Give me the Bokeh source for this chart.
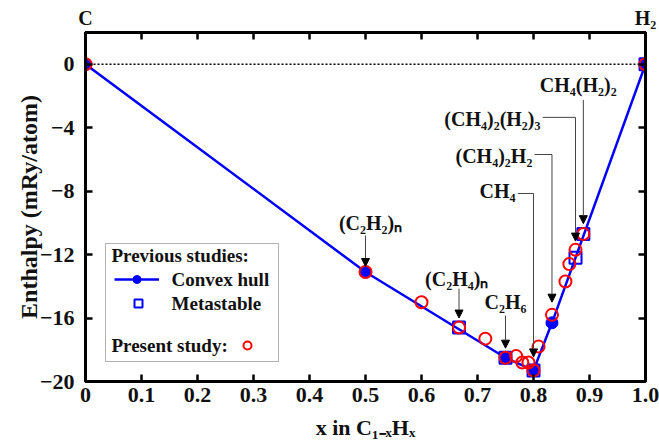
from bokeh.plotting import figure
from bokeh.models import (Span, Label, Arrow, NormalHead, BoxAnnotation, Legend,
                          LegendItem, LinearAxis, FixedTicker, Range1d)
from bokeh.core.properties import value
from bokeh.embed import file_html
from bokeh.resources import INLINE

# ---------------- data ----------------
hull_x = [0.0, 0.5, 0.75, 0.8, 0.833, 1.0]
hull_y = [0.0, -13.1, -18.5, -19.3, -16.3, 0.0]

meta_x = [0.667, 0.75, 0.8, 0.875, 0.889, 1.0]
meta_y = [-16.6, -18.5, -19.3, -12.2, -10.7, 0.0]

present_x = [0.0, 0.5, 0.6, 0.667, 0.714, 0.75, 0.769, 0.78, 0.791, 0.8,
             0.809, 0.833, 0.857, 0.864, 0.875, 0.889, 1.0]
present_y = [0.0, -13.1, -15.0, -16.6, -17.3, -18.5, -18.4, -18.8, -18.8, -19.3,
             -17.8, -15.8, -13.7, -12.6, -11.7, -10.7, 0.0]

compounds = ["(C\u2082H\u2082)\u2099", "(C\u2082H\u2084)\u2099", "C\u2082H\u2086", "CH\u2084",
             "(CH\u2084)\u2082H\u2082", "(CH\u2084)\u2082(H\u2082)\u2083", "CH\u2084(H\u2082)\u2082"]
compound_x = [0.5, 0.667, 0.75, 0.8, 0.833, 0.875, 0.889]

end_members_x = [0.0, 1.0]
end_members = ["C", "H\u2082"]

legend_texts = ["Previous studies:", "Convex hull", "Metastable", "Present study:"]

x_ticks = [0.0, 0.1, 0.2, 0.3, 0.4, 0.5, 0.6, 0.7, 0.8, 0.9, 1.0]
x_tick_labels = ["0", "0.1", "0.2", "0.3", "0.4", "0.5", "0.6", "0.7", "0.8", "0.9", "1.0"]
y_ticks = [0, -4, -8, -12, -16, -20]

# ---------------- figure ----------------
FONT = "Liberation Serif"
TXT = "#111111"
BLUE = "#0000ff"
RED = "#ff0000"

p = figure(width=659, height=443, x_range=Range1d(0, 1), y_range=Range1d(-20, 2),
           output_backend="svg", toolbar_location=None,
           min_border_left=85, min_border_right=14, min_border_top=32, min_border_bottom=62)
p.grid.visible = False
p.outline_line_color = "black"
p.outline_line_width = 3
p.background_fill_color = "white"
p.border_fill_color = "white"


def style_axis(ax, show_labels):
    ax.axis_line_width = 3
    ax.axis_line_color = "black"
    ax.major_tick_in = 7
    ax.major_tick_out = 0
    ax.major_tick_line_width = 2.5
    ax.major_tick_line_color = "black"
    ax.minor_tick_line_color = None
    if show_labels:
        ax.major_label_text_font = FONT
        ax.major_label_text_font_style = "bold"
        ax.major_label_text_font_size = "22px"
        ax.major_label_text_color = TXT
    else:
        ax.major_label_text_font_size = "0px"
        ax.major_label_text_color = None
        ax.major_label_standoff = 0


xa = p.xaxis[0]
xa.ticker = FixedTicker(ticks=x_ticks)
xa.major_label_overrides = {t: l for t, l in zip(x_ticks, x_tick_labels)}
style_axis(xa, True)
xa.major_label_standoff = 6
xa.axis_label = "x in C\u2081\u208b\u2093H\u2093"
xa.axis_label_text_font = FONT
xa.axis_label_text_font_style = "bold"
xa.axis_label_text_font_size = "22px"
xa.axis_label_text_color = TXT
xa.axis_label_standoff = 10

ya = p.yaxis[0]
ya.ticker = FixedTicker(ticks=y_ticks)
style_axis(ya, True)
ya.major_label_standoff = 11
ya.axis_label = "Enthalpy (mRy/atom)"
ya.axis_label_text_font = FONT
ya.axis_label_text_font_style = "bold"
ya.axis_label_text_font_size = "24px"
ya.axis_label_text_color = TXT
ya.axis_label_standoff = -5

top = LinearAxis(ticker=FixedTicker(ticks=x_ticks))
style_axis(top, False)
p.add_layout(top, "above")

# end-member names above the frame
top_names = LinearAxis(ticker=FixedTicker(ticks=end_members_x),
                       major_label_overrides={t: n for t, n in zip(end_members_x, end_members)})
top_names.axis_line_color = None
top_names.major_tick_line_color = None
top_names.minor_tick_line_color = None
top_names.major_tick_in = 0
top_names.major_tick_out = 0
top_names.major_label_standoff = 4
top_names.major_label_text_font = FONT
top_names.major_label_text_font_style = "bold"
top_names.major_label_text_font_size = "20px"
top_names.major_label_text_color = TXT
p.add_layout(top_names, "above")

right = LinearAxis(ticker=FixedTicker(ticks=y_ticks))
style_axis(right, False)
p.add_layout(right, "right")

# dotted zero line
p.add_layout(Span(location=0, dimension="width", line_color="black", line_width=1.5,
                  line_dash="2 2", level="underlay"))

# glyphs
hull_line = p.line(hull_x, hull_y, line_color=BLUE, line_width=2.5)
meta_r = p.scatter(meta_x, meta_y, marker="square", size=12, fill_color=None,
                   line_color=BLUE, line_width=2)
hull_pts = p.scatter(hull_x, hull_y, marker="circle", size=12, fill_color=BLUE,
                     line_color=BLUE)
present_r = p.scatter(present_x, present_y, marker="circle", size=12, fill_color=None,
                      line_color=RED, line_width=2)

# ---------------- annotations ----------------
LEAD = "#444444"
# (label_x, label_y, align, elbow_y or None, arrow_top, arrow_bottom)
ann_layout = [
    (0.509, -10.0, "center", None, -10.8, -12.75),
    (0.663, -13.55, "center", None, -14.15, -16.0),
    (0.750, -15.0, "center", None, -15.85, -17.9),
    (0.768, -8.0, "right", -8.15, -8.15, -18.45),
    (0.798, -5.8, "right", -5.69, -5.69, -15.0),
    (0.8125, -3.45, "right", -3.35, -3.35, -11.15),
    (0.880, -1.3, "center", None, -2.25, -10.05),
]
for name, cx, (lx, ly, al, ey, at, ab) in zip(compounds, compound_x, ann_layout):
    p.add_layout(Label(x=lx, y=ly, text=name, text_align=al, text_baseline="middle",
                       text_font=FONT, text_font_style="bold", text_font_size="20px",
                       text_color=TXT))
    if ey is not None:
        p.add_layout(Arrow(x_start=lx + 0.004, y_start=ey, x_end=cx, y_end=ey, end=None,
                           line_color=LEAD, line_width=1))
    p.add_layout(Arrow(x_start=cx, y_start=at, x_end=cx, y_end=ab,
                       end=NormalHead(size=8, fill_color="black", line_color="black"),
                       line_color=LEAD, line_width=1))

# ---------------- legend (box, texts, sample glyphs) ----------------
p.add_layout(BoxAnnotation(left=0.0357, right=0.3446, top=-11.3, bottom=-18.74,
                           fill_color="white", fill_alpha=1, line_color="black",
                           line_width=1, level="annotation"))

# text positions (x, y) in data units
legend_text_pos = [(0.0464, -12.06), (0.1536, -13.6), (0.1536, -15.1), (0.0464, -17.73)]
for txt, (tx, ty) in zip(legend_texts, legend_text_pos):
    p.add_layout(Label(x=tx, y=ty, text=txt, text_align="left", text_baseline="middle",
                       text_font=FONT, text_font_style="bold", text_font_size="19px",
                       text_color=TXT))


def glyph_legend(renderers, loc, gw):
    lg = Legend(items=[LegendItem(label=value(""), renderers=renderers)],
                location=loc, padding=0, margin=0, glyph_width=gw, glyph_height=20,
                label_standoff=0, border_line_color=None, background_fill_alpha=0)
    lg.label_text_font = FONT
    lg.label_text_font_size = "19px"
    p.add_layout(lg)


glyph_legend([hull_line, hull_pts], (29, 92), 45)
glyph_legend([meta_r], (43, 68), 20)
glyph_legend([present_r], (152, 26), 20)

open("out.html", "w").write(file_html(p, INLINE))
